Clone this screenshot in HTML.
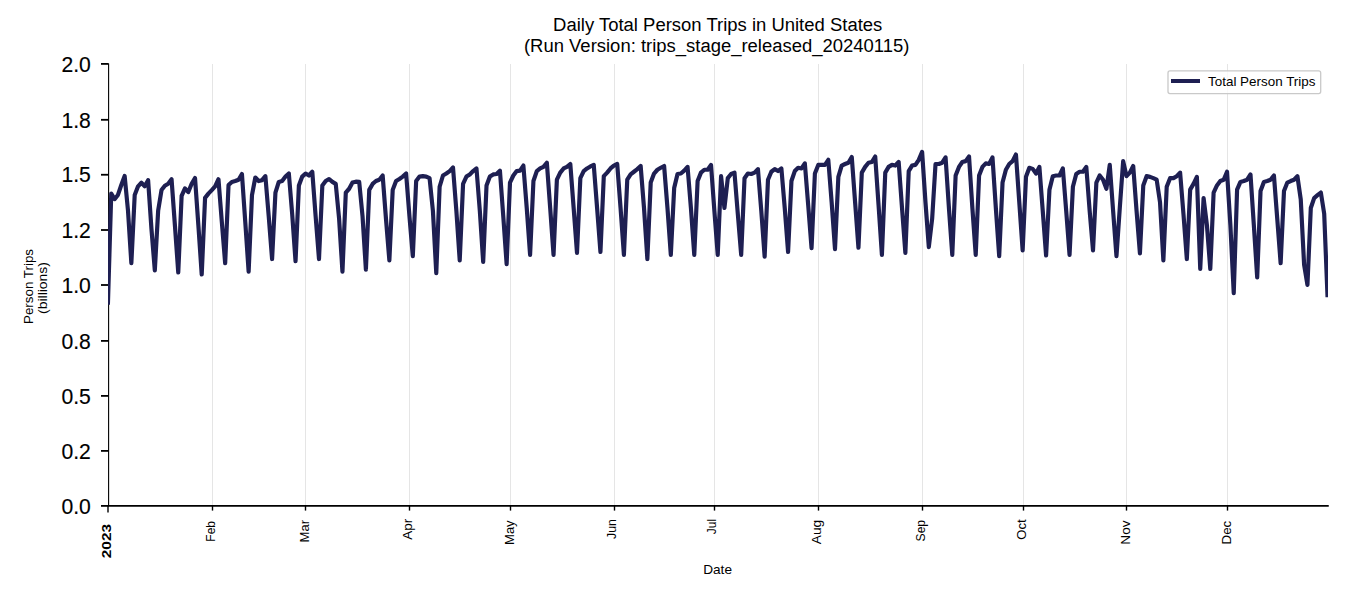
<!DOCTYPE html>
<html><head><meta charset="utf-8">
<style>
html,body{margin:0;padding:0;background:#fff;}
body{width:1350px;height:600px;overflow:hidden;}
svg{display:block;}
text{font-family:"Liberation Sans", sans-serif;}
</style></head>
<body>
<svg width="1350" height="600" viewBox="0 0 1350 600">
<rect width="1350" height="600" fill="#fff"/>
<line x1="212.50" y1="64" x2="212.50" y2="505" stroke="#e5e5e5" stroke-width="1"/>
<line x1="305.50" y1="64" x2="305.50" y2="505" stroke="#e5e5e5" stroke-width="1"/>
<line x1="409.50" y1="64" x2="409.50" y2="505" stroke="#e5e5e5" stroke-width="1"/>
<line x1="510.50" y1="64" x2="510.50" y2="505" stroke="#e5e5e5" stroke-width="1"/>
<line x1="614.50" y1="64" x2="614.50" y2="505" stroke="#e5e5e5" stroke-width="1"/>
<line x1="714.50" y1="64" x2="714.50" y2="505" stroke="#e5e5e5" stroke-width="1"/>
<line x1="818.50" y1="64" x2="818.50" y2="505" stroke="#e5e5e5" stroke-width="1"/>
<line x1="922.50" y1="64" x2="922.50" y2="505" stroke="#e5e5e5" stroke-width="1"/>
<line x1="1023.50" y1="64" x2="1023.50" y2="505" stroke="#e5e5e5" stroke-width="1"/>
<line x1="1126.50" y1="64" x2="1126.50" y2="505" stroke="#e5e5e5" stroke-width="1"/>
<line x1="1227.50" y1="64" x2="1227.50" y2="505" stroke="#e5e5e5" stroke-width="1"/>
<line x1="108.6" y1="63.5" x2="108.6" y2="506" stroke="#000" stroke-width="1.1"/>
<line x1="107.7" y1="505.9" x2="1328.75" y2="505.9" stroke="#000" stroke-width="1.9"/>
<line x1="101" y1="505.90" x2="108.6" y2="505.90" stroke="#000" stroke-width="1.8"/>
<text x="90.8" y="513.60" text-anchor="end" font-size="22.6" textLength="29.4" stroke="#000" stroke-width="0.15" lengthAdjust="spacingAndGlyphs" fill="#000">0.0</text>
<line x1="101" y1="450.90" x2="108.6" y2="450.90" stroke="#000" stroke-width="1.8"/>
<text x="90.8" y="458.60" text-anchor="end" font-size="22.6" textLength="29.4" stroke="#000" stroke-width="0.15" lengthAdjust="spacingAndGlyphs" fill="#000">0.2</text>
<line x1="101" y1="395.90" x2="108.6" y2="395.90" stroke="#000" stroke-width="1.8"/>
<text x="90.8" y="403.60" text-anchor="end" font-size="22.6" textLength="29.4" stroke="#000" stroke-width="0.15" lengthAdjust="spacingAndGlyphs" fill="#000">0.5</text>
<line x1="101" y1="340.90" x2="108.6" y2="340.90" stroke="#000" stroke-width="1.8"/>
<text x="90.8" y="348.60" text-anchor="end" font-size="22.6" textLength="29.4" stroke="#000" stroke-width="0.15" lengthAdjust="spacingAndGlyphs" fill="#000">0.8</text>
<line x1="101" y1="285.00" x2="108.6" y2="285.00" stroke="#000" stroke-width="1.8"/>
<text x="90.8" y="292.70" text-anchor="end" font-size="22.6" textLength="29.4" stroke="#000" stroke-width="0.15" lengthAdjust="spacingAndGlyphs" fill="#000">1.0</text>
<line x1="101" y1="230.00" x2="108.6" y2="230.00" stroke="#000" stroke-width="1.8"/>
<text x="90.8" y="237.70" text-anchor="end" font-size="22.6" textLength="29.4" stroke="#000" stroke-width="0.15" lengthAdjust="spacingAndGlyphs" fill="#000">1.2</text>
<line x1="101" y1="174.75" x2="108.6" y2="174.75" stroke="#000" stroke-width="1.8"/>
<text x="90.8" y="182.45" text-anchor="end" font-size="22.6" textLength="29.4" stroke="#000" stroke-width="0.15" lengthAdjust="spacingAndGlyphs" fill="#000">1.5</text>
<line x1="101" y1="119.80" x2="108.6" y2="119.80" stroke="#000" stroke-width="1.8"/>
<text x="90.8" y="127.50" text-anchor="end" font-size="22.6" textLength="29.4" stroke="#000" stroke-width="0.15" lengthAdjust="spacingAndGlyphs" fill="#000">1.8</text>
<line x1="101" y1="63.90" x2="108.6" y2="63.90" stroke="#000" stroke-width="1.8"/>
<text x="90.8" y="71.60" text-anchor="end" font-size="22.6" textLength="29.4" stroke="#000" stroke-width="0.15" lengthAdjust="spacingAndGlyphs" fill="#000">2.0</text>
<line x1="108.00" y1="505.9" x2="108.00" y2="512.5" stroke="#000" stroke-width="1.4"/>
<text transform="translate(111.30,524.0) rotate(-90)" text-anchor="end" font-size="12.7" font-weight="bold" textLength="34.20" lengthAdjust="spacingAndGlyphs" fill="#000">2023</text>
<line x1="212.50" y1="505.9" x2="212.50" y2="510.6" stroke="#000" stroke-width="1.4"/>
<text transform="translate(215.00,521.0) rotate(-90)" text-anchor="end" font-size="12.7" textLength="20.69" lengthAdjust="spacingAndGlyphs" fill="#000">Feb</text>
<line x1="305.50" y1="505.9" x2="305.50" y2="510.6" stroke="#000" stroke-width="1.4"/>
<text transform="translate(309.00,520.0) rotate(-90)" text-anchor="end" font-size="12.7" textLength="22.43" lengthAdjust="spacingAndGlyphs" fill="#000">Mar</text>
<line x1="409.50" y1="505.9" x2="409.50" y2="510.6" stroke="#000" stroke-width="1.4"/>
<text transform="translate(412.10,518.8) rotate(-90)" text-anchor="end" font-size="12.7" textLength="20.95" lengthAdjust="spacingAndGlyphs" fill="#000">Apr</text>
<line x1="510.50" y1="505.9" x2="510.50" y2="510.6" stroke="#000" stroke-width="1.4"/>
<text transform="translate(514.00,520.4) rotate(-90)" text-anchor="end" font-size="12.7" textLength="24.52" lengthAdjust="spacingAndGlyphs" fill="#000">May</text>
<line x1="614.50" y1="505.9" x2="614.50" y2="510.6" stroke="#000" stroke-width="1.4"/>
<text transform="translate(616.00,519.1) rotate(-90)" text-anchor="end" font-size="12.7" textLength="19.79" lengthAdjust="spacingAndGlyphs" fill="#000">Jun</text>
<line x1="714.50" y1="505.9" x2="714.50" y2="510.6" stroke="#000" stroke-width="1.4"/>
<text transform="translate(715.50,518.8) rotate(-90)" text-anchor="end" font-size="12.7" textLength="15.34" lengthAdjust="spacingAndGlyphs" fill="#000">Jul</text>
<line x1="818.50" y1="505.9" x2="818.50" y2="510.6" stroke="#000" stroke-width="1.4"/>
<text transform="translate(821.30,519.9) rotate(-90)" text-anchor="end" font-size="12.7" textLength="24.35" lengthAdjust="spacingAndGlyphs" fill="#000">Aug</text>
<line x1="922.50" y1="505.9" x2="922.50" y2="510.6" stroke="#000" stroke-width="1.4"/>
<text transform="translate(925.00,519.9) rotate(-90)" text-anchor="end" font-size="12.7" textLength="21.56" lengthAdjust="spacingAndGlyphs" fill="#000">Sep</text>
<line x1="1023.50" y1="505.9" x2="1023.50" y2="510.6" stroke="#000" stroke-width="1.4"/>
<text transform="translate(1026.10,519.3) rotate(-90)" text-anchor="end" font-size="12.7" textLength="20.43" lengthAdjust="spacingAndGlyphs" fill="#000">Oct</text>
<line x1="1126.50" y1="505.9" x2="1126.50" y2="510.6" stroke="#000" stroke-width="1.4"/>
<text transform="translate(1129.80,520.4) rotate(-90)" text-anchor="end" font-size="12.7" textLength="24.33" lengthAdjust="spacingAndGlyphs" fill="#000">Nov</text>
<line x1="1227.50" y1="505.9" x2="1227.50" y2="510.6" stroke="#000" stroke-width="1.4"/>
<text transform="translate(1231.00,520.7) rotate(-90)" text-anchor="end" font-size="12.7" textLength="23.79" lengthAdjust="spacingAndGlyphs" fill="#000">Dec</text>
<defs><clipPath id="ax"><rect x="108.0" y="63.9" width="1219.9" height="442"/></clipPath></defs>
<polyline clip-path="url(#ax)" points="107.90,304.79 111.25,193.63 114.60,199.15 117.95,194.95 121.30,185.01 124.65,175.95 128.00,210.64 131.35,263.24 134.71,194.95 138.06,186.33 141.41,182.80 144.76,186.33 148.11,180.15 151.46,228.99 154.81,270.31 158.16,210.64 161.51,190.09 164.86,185.67 168.21,183.68 171.56,179.26 174.91,225.23 178.26,272.52 181.62,195.84 184.97,188.32 188.32,192.08 191.67,183.68 195.02,177.94 198.37,225.23 201.72,274.51 205.07,197.83 208.42,193.63 211.77,190.09 215.12,186.33 218.47,179.26 221.82,221.92 225.17,263.24 228.53,185.01 231.88,181.91 235.23,181.03 238.58,179.70 241.93,173.96 245.28,222.14 248.63,271.64 251.98,195.17 255.33,177.49 258.68,181.03 262.03,180.15 265.38,176.17 268.73,216.39 272.08,259.04 275.44,192.52 278.79,181.91 282.14,181.03 285.49,176.61 288.84,173.52 292.19,214.18 295.54,261.25 298.89,185.45 302.24,176.61 305.59,173.52 308.94,175.50 312.29,171.75 315.64,216.39 318.99,259.04 322.34,185.45 325.70,181.03 329.05,179.04 332.40,181.91 335.75,183.90 339.10,218.60 342.45,271.64 345.80,192.52 349.15,188.76 352.50,182.58 355.85,181.69 359.20,181.91 362.55,216.39 365.90,269.65 369.25,189.87 372.61,183.90 375.96,181.03 379.31,179.70 382.66,175.50 386.01,219.26 389.36,260.37 392.71,189.87 396.06,181.03 399.41,179.04 402.76,176.61 406.11,173.52 409.46,216.39 412.81,256.17 416.16,181.03 419.52,176.61 422.87,176.17 426.22,176.61 429.57,178.16 432.92,210.87 436.27,273.19 439.62,186.78 442.97,175.50 446.32,173.52 449.67,171.08 453.02,167.55 456.37,210.87 459.72,260.37 463.07,183.90 466.42,176.61 469.78,174.40 473.13,171.08 476.48,168.43 479.83,210.87 483.18,261.92 486.53,185.45 489.88,176.61 493.23,174.40 496.58,173.96 499.93,170.64 503.28,216.39 506.63,264.13 509.98,182.58 513.33,175.50 516.69,171.08 520.04,170.64 523.39,165.56 526.74,207.99 530.09,254.84 533.44,181.03 536.79,171.08 540.14,168.43 543.49,166.89 546.84,162.69 550.19,207.99 553.54,254.84 556.89,179.70 560.24,172.63 563.60,168.43 566.95,166.89 570.30,164.01 573.65,207.99 577.00,252.85 580.35,178.16 583.70,171.08 587.05,168.43 590.40,166.44 593.75,164.90 597.10,207.99 600.45,251.97 603.80,176.17 607.15,172.63 610.50,168.43 613.86,165.56 617.21,164.01 620.56,207.99 623.91,254.84 627.26,179.70 630.61,174.40 633.96,171.75 637.31,169.10 640.66,166.00 644.01,207.99 647.36,259.04 650.71,182.58 654.06,173.52 657.41,169.76 660.77,167.77 664.12,166.00 667.47,207.99 670.82,254.84 674.17,188.10 677.52,173.96 680.87,173.52 684.22,170.64 687.57,166.89 690.92,207.99 694.27,254.84 697.62,181.03 700.97,172.63 704.32,169.76 707.68,169.76 711.03,164.90 714.38,210.87 717.73,254.84 721.08,176.17 724.43,207.99 727.78,178.16 731.13,173.96 734.48,172.63 737.83,214.18 741.18,254.84 744.53,178.16 747.88,173.52 751.23,173.96 754.59,172.63 757.94,169.10 761.29,210.87 764.64,256.61 767.99,179.70 771.34,171.75 774.69,169.10 778.04,171.08 781.39,168.43 784.74,207.99 788.09,251.97 791.44,181.03 794.79,171.08 798.14,167.77 801.49,168.43 804.85,163.35 808.20,205.12 811.55,248.21 814.90,173.52 818.25,164.90 821.60,164.90 824.95,164.90 828.30,159.81 831.65,202.25 835.00,249.10 838.35,176.83 841.70,165.56 845.05,164.01 848.40,162.69 851.76,156.94 855.11,202.25 858.46,247.77 861.81,172.63 865.16,166.89 868.51,162.69 871.86,162.02 875.21,156.50 878.56,205.12 881.91,254.84 885.26,172.63 888.61,166.89 891.96,164.90 895.31,165.56 898.67,162.02 902.02,207.99 905.37,252.85 908.72,171.08 912.07,165.56 915.42,164.90 918.77,159.81 922.12,151.86 925.47,202.25 928.82,247.11 932.17,218.60 935.52,164.01 938.87,164.01 942.22,162.69 945.57,157.38 948.93,207.99 952.28,254.84 955.63,175.50 958.98,166.89 962.33,162.02 965.68,161.14 969.03,156.50 972.38,207.99 975.73,254.84 979.08,175.50 982.43,166.89 985.78,163.35 989.13,164.01 992.48,157.38 995.84,207.99 999.19,256.17 1002.54,182.58 1005.89,169.76 1009.24,164.01 1012.59,161.14 1015.94,154.51 1019.29,202.25 1022.64,250.42 1025.99,176.83 1029.34,167.77 1032.69,168.88 1036.04,173.52 1039.39,166.89 1042.75,210.87 1046.10,255.51 1049.45,189.65 1052.80,176.17 1056.15,175.50 1059.50,175.50 1062.85,168.43 1066.20,210.87 1069.55,254.84 1072.90,186.78 1076.25,173.96 1079.60,171.75 1082.95,171.75 1086.30,166.89 1089.66,210.87 1093.01,250.42 1096.36,182.58 1099.71,175.50 1103.06,179.70 1106.41,188.76 1109.76,164.90 1113.11,210.87 1116.46,256.17 1119.81,207.55 1123.16,161.14 1126.51,176.17 1129.86,172.63 1133.21,166.00 1136.56,210.87 1139.92,253.30 1143.27,185.45 1146.62,176.17 1149.97,176.83 1153.32,178.16 1156.67,179.70 1160.02,202.25 1163.37,260.37 1166.72,186.78 1170.07,178.16 1173.42,178.16 1176.77,176.17 1180.12,172.63 1183.47,214.18 1186.83,259.04 1190.18,189.65 1193.53,183.90 1196.88,176.83 1200.23,268.99 1203.58,198.05 1206.93,225.23 1210.28,268.99 1213.63,192.52 1216.98,185.45 1220.33,181.03 1223.68,179.70 1227.03,171.75 1230.38,225.23 1233.74,293.08 1237.09,189.65 1240.44,181.91 1243.79,181.03 1247.14,179.70 1250.49,174.40 1253.84,225.23 1257.19,277.39 1260.54,190.97 1263.89,181.91 1267.24,181.03 1270.59,179.70 1273.94,175.50 1277.29,219.26 1280.64,263.24 1284.00,190.97 1287.35,182.58 1290.70,181.03 1294.05,179.70 1297.40,176.17 1300.75,199.37 1304.10,264.57 1307.45,284.90 1310.80,207.99 1314.15,198.05 1317.50,195.17 1320.85,192.52 1324.20,213.74 1327.55,297.28" fill="none" stroke="#1e1f52" stroke-width="4.17" stroke-linejoin="round" stroke-linecap="butt"/>
<text x="717.6" y="574" text-anchor="middle" font-size="12.7" textLength="28.8" lengthAdjust="spacingAndGlyphs" fill="#000">Date</text>
<text transform="translate(33.0,286.5) rotate(-90)" text-anchor="middle" font-size="12.7" textLength="75" lengthAdjust="spacingAndGlyphs" fill="#000">Person Trips</text>
<text transform="translate(46.5,288) rotate(-90)" text-anchor="middle" font-size="12.7" textLength="51.8" lengthAdjust="spacingAndGlyphs" fill="#000">(billions)</text>
<text x="717.7" y="30.8" text-anchor="middle" font-size="17.6" textLength="329.2" lengthAdjust="spacingAndGlyphs" fill="#000">Daily Total Person Trips in United States</text>
<text x="716.7" y="51.7" text-anchor="middle" font-size="17.6" textLength="385.5" lengthAdjust="spacingAndGlyphs" fill="#000">(Run Version: trips_stage_released_20240115)</text>
<rect x="1168.0" y="70.9" width="152.7" height="22.7" rx="2" ry="2" fill="rgba(255,255,255,0.8)" stroke="#c9c9c9" stroke-width="1.3"/>
<line x1="1171" y1="81" x2="1200" y2="81" stroke="#1e1f52" stroke-width="4"/>
<text x="1208" y="85.7" font-size="12.7" textLength="107.5" lengthAdjust="spacingAndGlyphs" fill="#000">Total Person Trips</text>
</svg>
</body></html>
